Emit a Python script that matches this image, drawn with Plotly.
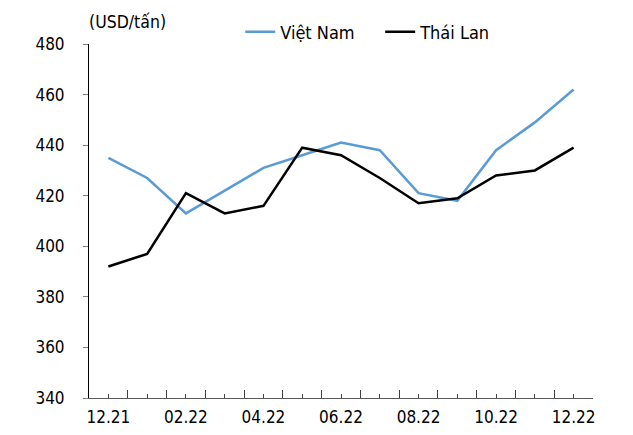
import plotly.graph_objects as go

# monthly export prices, USD/tonne
months = ['12.21', '01.22', '02.22', '03.22', '04.22', '05.22', '06.22',
          '07.22', '08.22', '09.22', '10.22', '11.22', '12.22']
viet_nam = [435, 427, 413, 422, 431, 436, 441, 438, 421, 418, 438, 449, 462]
thai_lan = [392, 397, 421, 413, 416, 439, 436, 427, 417, 419, 428, 430, 439]

idx = list(range(len(months)))
labels = [m if i % 2 == 0 else '' for i, m in enumerate(months)]

FONT = 'DejaVu Sans Condensed, DejaVu Sans, sans-serif'

fig = go.Figure()
fig.add_trace(go.Scatter(x=idx, y=viet_nam, mode='lines', name='Việt Nam',
                         line=dict(color='#5B9BD5', width=2.5)))
fig.add_trace(go.Scatter(x=idx, y=thai_lan, mode='lines', name='Thái Lan',
                         line=dict(color='#000000', width=2.5)))

fig.update_xaxes(
    range=[-0.5, len(months) - 0.5],
    tickmode='array', tickvals=idx, ticktext=labels,
    ticks='inside', ticklen=4, tickcolor='#404040', tickwidth=1,
    minor=dict(tickmode='linear', tick0=-0.5, dtick=1, ticks='inside',
               ticklen=8, tickcolor='#404040', tickwidth=1),
    showline=True, linecolor='#595959', linewidth=1,
    showgrid=False, zeroline=False,
    tickfont=dict(family=FONT, size=17, color='#000000'),
    ticklabelstandoff=4,
)
fig.update_yaxes(
    range=[340, 480], tickmode='linear', tick0=340, dtick=20,
    ticks='outside', ticklen=5, tickcolor='#808080', tickwidth=1,
    showline=True, linecolor='#000000', linewidth=1,
    showgrid=False, zeroline=False,
    tickfont=dict(family=FONT, size=17, color='#000000'),
    ticklabelstandoff=15,
)

fig.add_annotation(text='(USD/tấn)', xref='paper', yref='paper',
                   x=-0.004, y=1.062, xanchor='left', yanchor='middle',
                   showarrow=False,
                   font=dict(family=FONT, size=17.5, color='#000000'))

# page body has an 8px margin, so the figure is a bit smaller than the window
fig.update_layout(
    width=625, height=427,
    margin=dict(l=81, r=40, t=36, b=37, autoexpand=False),
    paper_bgcolor='white', plot_bgcolor='white',
    showlegend=True,
    legend=dict(orientation='h', x=0.30, y=1.034, xanchor='left',
                yanchor='middle', font=dict(family=FONT, size=18, color='#000000'),
                bgcolor='rgba(0,0,0,0)', itemwidth=30, tracegroupgap=0,
                entrywidth=95),
)

fig.write_html("out.html")
